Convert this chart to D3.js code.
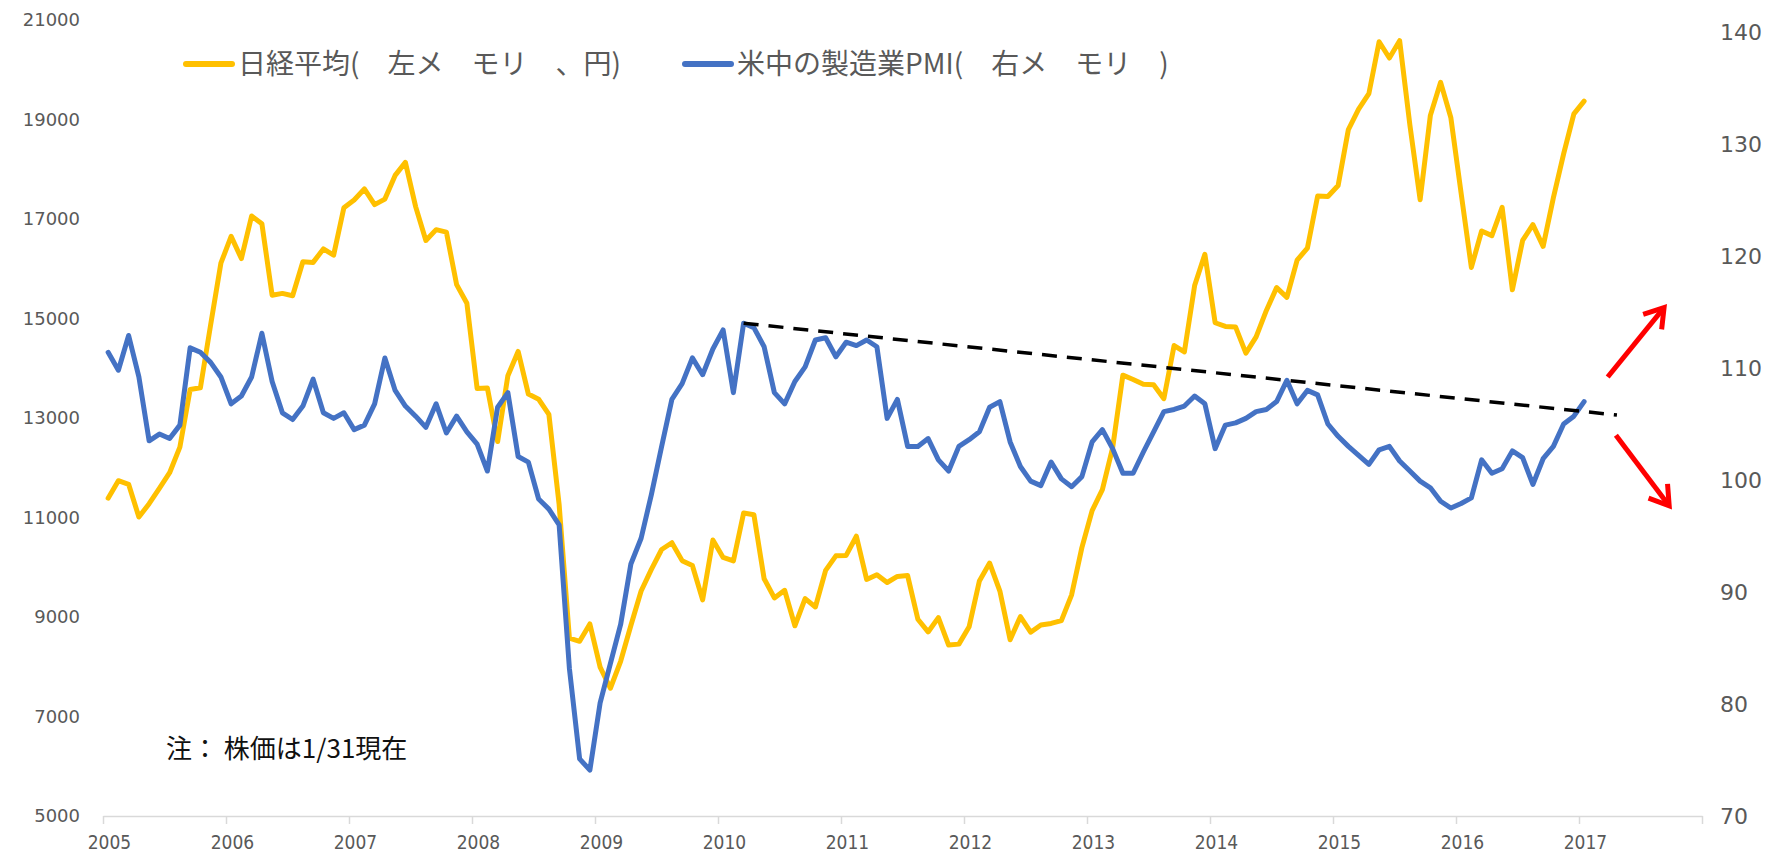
<!DOCTYPE html>
<html>
<head>
<meta charset="utf-8">
<script src="https://cdn.jsdelivr.net/npm/d3@7"></script>
<style>
  body { margin: 0; background: #fff; }
  svg { display: block; }
</style>
</head>
<body>
<svg id="svg" width="1772" height="862"></svg>
<script>
// monthly values, Jan 2005 .. Jan 2017
const nikkei = [
  11388, 11740, 11668, 11009, 11277, 11584, 11900, 12414, 13574, 13607, 14872, 16111,
  16650, 16205, 17060, 16906, 15467, 15505, 15457, 16141, 16128, 16399, 16274, 17226,
  17383, 17604, 17288, 17400, 17876, 18138, 17249, 16569, 16786, 16737, 15681, 15308,
  13592, 13603, 12526, 13850, 14338, 13481, 13377, 13073, 11260, 8577, 8512, 8860,
  7994, 7568, 8110, 8828, 9523, 9958, 10357, 10493, 10133, 10035, 9345, 10546,
  10198, 10126, 11090, 11057, 9769, 9383, 9537, 8824, 9369, 9202, 9937, 10229,
  10238, 10624, 9755, 9850, 9694, 9816, 9833, 8955, 8700, 8988, 8435, 8455,
  8803, 9723, 10084, 9521, 8543, 9007, 8695, 8840, 8870, 8928, 9446, 10395,
  11139, 11559, 12398, 13861, 13775, 13677, 13668, 13389, 14456, 14327, 15662, 16291,
  14915, 14841, 14828, 14304, 14632, 15162, 15621, 15425, 16174, 16414, 17460, 17451,
  17674, 18798, 19207, 19520, 20563, 20236, 20585, 18890, 17388, 19083, 19747, 19034,
  17518, 16027, 16759, 16666, 17235, 15576, 16569, 16887, 16450, 17425, 18308, 19114,
  19370
]

const pmi = [
  111.4, 109.8, 112.9, 109.2, 103.5, 104.1, 103.7, 104.9, 111.8, 111.4, 110.5, 109.2,
  106.8, 107.5, 109.2, 113.1, 108.8, 106.0, 105.4, 106.6, 109.0, 106.0, 105.5, 106.0,
  104.5, 104.9, 106.8, 110.9, 108.0, 106.6, 105.7, 104.7, 106.8, 104.2, 105.7, 104.3,
  103.2, 100.8, 106.5, 107.8, 102.1, 101.6, 98.3, 97.4, 96.0, 83.2, 75.1, 74.1,
  80.1, 83.6, 87.1, 92.5, 94.8, 98.7, 103.0, 107.2, 108.6, 110.9, 109.4, 111.7,
  113.4, 107.8, 114.0, 113.6, 111.9, 107.8, 106.8, 108.8, 110.1, 112.5, 112.7, 111.0,
  112.3, 112.0, 112.5, 111.9, 105.5, 107.2, 103.0, 103.0, 103.7, 101.8, 100.8, 103.0,
  103.6, 104.3, 106.5, 107.0, 103.4, 101.2, 99.9, 99.5, 101.6, 100.1, 99.4, 100.3,
  103.4, 104.5, 102.8, 100.6, 100.6, 102.5, 104.3, 106.1, 106.3, 106.6, 107.5, 106.8,
  102.8, 104.9, 105.1, 105.5, 106.1, 106.3, 107.0, 108.9, 106.8, 108.0, 107.6, 105.0,
  103.9, 103.0, 102.2, 101.4, 102.7, 103.0, 101.7, 100.8, 99.9, 99.3, 98.1, 97.5,
  97.9, 98.4, 101.8, 100.6, 101.0, 102.6, 102.0, 99.6, 101.9, 103.0, 105.0, 105.7,
  107.0
]

const yearLabels = d3.range(2005, 2018)
const leftTicks = d3.range(5000, 21001, 2000)
const rightTicks = d3.range(70, 141, 10)

// annotation lines, [months since Jan 2005, PMI value]
const trend = [[62.5, 114.0], [147.7, 105.8]]
const arrows = [
  [[146.8, 109.2], [152.3, 115.4]],
  [[147.6, 104.0], [152.8, 97.7]]
]

const legendLabels = ['日経平均(　左メ　モリ　、円)', '米中の製造業PMI(　右メ　モリ　)']
const noteText = '注： 株価は1/31現在'

const colours = ['#FFC000', '#4472C4']

const svg = d3.select('#svg')

const x = d3.scaleLinear().domain([0, 156]).range([103, 1702])
const yL = d3.scaleLinear().domain([5000, 21000]).range([816, 20])
const yR = d3.scaleLinear().domain([70, 140]).range([816, 32])

svg.append('rect')
  .attr('width', 1772)
  .attr('height', 862)
  .attr('fill', '#fff')

// x axis
const xAxis = svg.append('g')
  .attr('transform', 'translate(0, 816)')
  .call(d3.axisBottom(x)
    .tickValues(d3.range(0, 157, 12))
    .tickSize(8)
    .tickSizeOuter(0)
    .tickPadding(12)
    .tickFormat(d => d < 156 ? yearLabels[d / 12] : ''))

xAxis.select('.domain').attr('stroke', '#d9d9d9').attr('stroke-width', 1.5)
xAxis.selectAll('.tick line').attr('stroke', '#d9d9d9').attr('stroke-width', 1.5)
xAxis.selectAll('.tick text')
  .attr('dx', 6)
  .style('font-family', '"Liberation Sans Narrow", "DejaVu Sans Condensed", "Liberation Sans", sans-serif')
  .style('font-size', '19px')
  .style('fill', '#595959')

// left axis
const leftAxis = svg.append('g')
  .attr('transform', 'translate(80, 0)')
  .call(d3.axisLeft(yL).tickValues(leftTicks).tickSize(0).tickPadding(0).tickFormat(d3.format('d')))
leftAxis.select('.domain').remove()
leftAxis.selectAll('.tick text')
  .style('font-family', '"DejaVu Sans", sans-serif')
  .style('font-size', '18px')
  .style('fill', '#595959')

// right axis
const rightAxis = svg.append('g')
  .attr('transform', 'translate(1720, 0)')
  .call(d3.axisRight(yR).tickValues(rightTicks).tickSize(0).tickPadding(0))
rightAxis.select('.domain').remove()
rightAxis.selectAll('.tick text')
  .style('font-family', '"DejaVu Sans", sans-serif')
  .style('font-size', '22px')
  .style('fill', '#595959')

// series
const lineL = d3.line().x((d, i) => x(i + 0.5)).y(d => yL(d))
const lineR = d3.line().x((d, i) => x(i + 0.5)).y(d => yR(d))

svg.append('path')
  .datum(nikkei)
  .attr('d', lineL)
  .attr('fill', 'none')
  .attr('stroke', colours[0])
  .attr('stroke-width', 5)
  .attr('stroke-linejoin', 'round')
  .attr('stroke-linecap', 'round')

svg.append('path')
  .datum(pmi)
  .attr('d', lineR)
  .attr('fill', 'none')
  .attr('stroke', colours[1])
  .attr('stroke-width', 5)
  .attr('stroke-linejoin', 'round')
  .attr('stroke-linecap', 'round')

// trend line
svg.append('path')
  .datum(trend)
  .attr('d', d3.line().x(d => x(d[0])).y(d => yR(d[1])))
  .attr('fill', 'none')
  .attr('stroke', '#000')
  .attr('stroke-width', 3.5)
  .attr('stroke-dasharray', '15 10')

// red arrows
arrows.forEach(a => {
  const [x0, y0] = [x(a[0][0]), yR(a[0][1])]
  const [x1, y1] = [x(a[1][0]), yR(a[1][1])]
  const ang = Math.atan2(y1 - y0, x1 - x0)
  const len = 22
  const spread = Math.PI / 5.5
  const head = [
    [x1 - len * Math.cos(ang - spread), y1 - len * Math.sin(ang - spread)],
    [x1, y1],
    [x1 - len * Math.cos(ang + spread), y1 - len * Math.sin(ang + spread)]
  ]
  svg.append('line')
    .attr('x1', x0).attr('y1', y0)
    .attr('x2', x1 - 2 * Math.cos(ang)).attr('y2', y1 - 2 * Math.sin(ang))
    .attr('stroke', '#FF0000')
    .attr('stroke-width', 5)
  svg.append('path')
    .attr('d', d3.line()(head))
    .attr('fill', 'none')
    .attr('stroke', '#FF0000')
    .attr('stroke-width', 5)
    .attr('stroke-linejoin', 'miter')
})

// legend
const legend = svg.append('g')
  .selectAll('g')
  .data(legendLabels)
  .join('g')
  .attr('transform', (d, i) => `translate(${[186, 685][i]}, 64)`)

legend.append('line')
  .attr('x1', 0)
  .attr('x2', 46)
  .attr('stroke', (d, i) => colours[i])
  .attr('stroke-width', 6)
  .attr('stroke-linecap', 'round')

legend.append('text')
  .text(d => d)
  .attr('x', 52)
  .attr('dy', '0.36em')
  .style('font-family', '"Noto Sans CJK JP", sans-serif')
  .style('font-size', '28px')
  .style('fill', '#595959')

// note
svg.append('text')
  .text(noteText)
  .attr('x', 166)
  .attr('y', 749)
  .attr('dy', '0.36em')
  .style('font-family', '"Noto Sans CJK JP", sans-serif')
  .style('font-size', '26px')
  .style('fill', '#111')
</script>
</body>
</html>
